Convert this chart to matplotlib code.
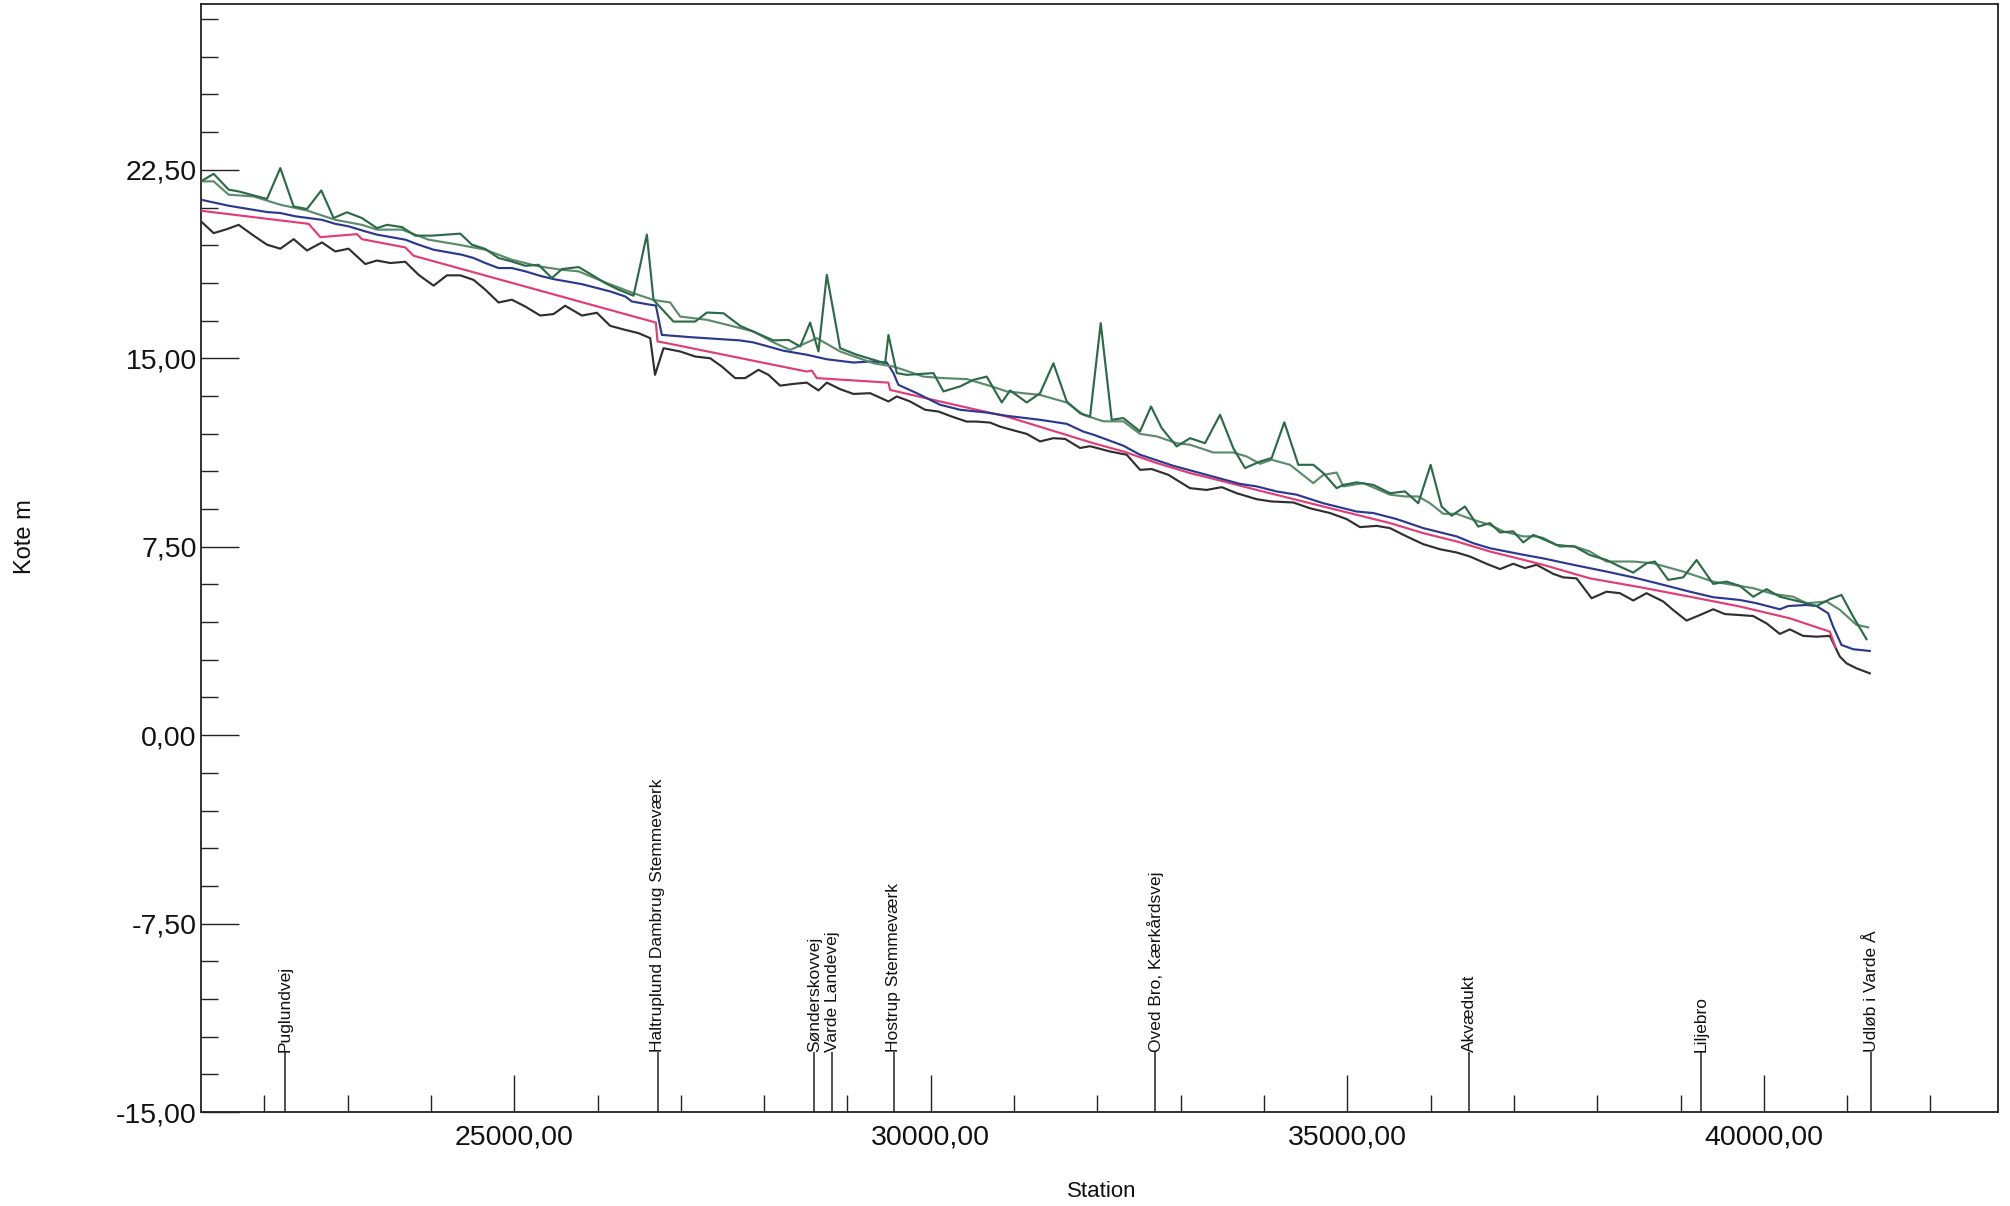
import matplotlib
matplotlib.use("Agg")
import matplotlib.pyplot as plt
from matplotlib.ticker import FixedLocator, FuncFormatter

plt.rcParams['font.family'] = ['Liberation Sans', 'DejaVu Sans']

# ---------------- data (station m, kote m) ----------------
bund_x = [21240, 21392, 21552, 21692, 21872, 22032, 22192, 22352, 22512, 22692, 22852, 23012,
          23212, 23352, 23512, 23692, 23852, 24032, 24192, 24352, 24512, 24652, 24812, 24972,
          25132, 25312, 25472, 25612, 25812, 25992, 26152, 26332, 26492, 26632, 26690, 26792,
          26992, 27172, 27352, 27492, 27652, 27772, 27932, 28052, 28192, 28352, 28512, 28652,
          28752, 28912, 29072, 29272, 29492, 29592, 29752, 29932, 30092, 30252, 30432, 30552,
          30712, 30832, 30972, 31152, 31312, 31472, 31612, 31792, 31912, 32152, 32352, 32512,
          32652, 32852, 33112, 33312, 33492, 33672, 33912, 34092, 34352, 34552, 34792, 34992,
          35152, 35352, 35512, 35712, 35912, 36112, 36312, 36472, 36672, 36832, 36992, 37132,
          37272, 37472, 37592, 37752, 37932, 38112, 38272, 38432, 38592, 38792, 38912, 39072,
          39232, 39392, 39532, 39712, 39872, 40032, 40192, 40312, 40472, 40632, 40792, 40912,
          40992, 41112, 41272]
bund_y = [20.45, 19.98, 20.14, 20.31, 19.88, 19.52, 19.36, 19.74, 19.29, 19.61, 19.25, 19.36,
          18.75, 18.89, 18.79, 18.84, 18.32, 17.89, 18.30, 18.30, 18.12, 17.73, 17.22, 17.33,
          17.06, 16.70, 16.76, 17.09, 16.70, 16.81, 16.29, 16.13, 16.00, 15.80, 14.34, 15.40,
          15.27, 15.07, 15.00, 14.67, 14.21, 14.21, 14.54, 14.34, 13.91, 13.98, 14.03, 13.72,
          14.03, 13.77, 13.58, 13.61, 13.28, 13.48, 13.28, 12.95, 12.88, 12.68, 12.48, 12.48,
          12.44, 12.28, 12.15, 11.99, 11.69, 11.82, 11.79, 11.43, 11.50, 11.29, 11.16, 10.56,
          10.59, 10.36, 9.83, 9.76, 9.87, 9.63, 9.39, 9.30, 9.26, 9.03, 8.84, 8.60,
          8.28, 8.33, 8.24, 7.91, 7.60, 7.40, 7.27, 7.11, 6.82, 6.61, 6.82, 6.65,
          6.78, 6.42, 6.28, 6.24, 5.45, 5.71, 5.65, 5.36, 5.65, 5.32, 4.98, 4.56,
          4.78, 5.01, 4.82, 4.78, 4.74, 4.45, 4.03, 4.21, 3.95, 3.92, 3.95, 3.13,
          2.86, 2.66, 2.46]

pink_x = [21240, 22532, 22672, 23112, 23172, 23692, 23792, 26700, 26720, 26832, 28512, 28572,
          28632, 29492, 29512, 30112, 30912, 31950, 32312, 32712, 33112, 33512, 33912, 34312,
          34712, 35112, 35512, 35912, 36312, 36712, 37112, 37350, 37912, 38512, 39112, 39712,
          40312, 40792, 40860]
pink_y = [20.87, 20.35, 19.82, 19.94, 19.74, 19.41, 19.08, 16.42, 15.67, 15.60, 14.47, 14.51,
          14.21, 14.03, 13.74, 13.28, 12.68, 11.62, 11.29, 10.83, 10.43, 10.10, 9.76, 9.43,
          9.10, 8.77, 8.44, 8.04, 7.71, 7.31, 6.98, 6.78, 6.24, 5.89, 5.51, 5.12,
          4.65, 4.12, 3.50]

blaa_x = [21240, 21572, 22032, 22192, 22372, 22692, 22852, 23012, 23212, 23352, 23692, 23852,
          24032, 24372, 24512, 24652, 24812, 24972, 25132, 25312, 25472, 25812, 26152, 26332,
          26412, 26632, 26700, 26772, 27112, 27712, 27872, 28232, 28512, 28752, 29072, 29272,
          29472, 29552, 29612, 29832, 30112, 30352, 30672, 30912, 31312, 31632, 31832, 31960,
          32312, 32512, 32912, 33312, 33712, 33912, 34152, 34392, 34712, 35112, 35312, 35592,
          35912, 36312, 36512, 36712, 37112, 37360, 37712, 38112, 38432, 38712, 39112, 39392,
          39712, 39912, 40192, 40292, 40512, 40632, 40772, 40832, 40932, 41072, 41272]
blaa_y = [21.31, 21.07, 20.82, 20.78, 20.65, 20.51, 20.35, 20.25, 20.05, 19.92, 19.72, 19.52,
          19.32, 19.12, 18.99, 18.79, 18.59, 18.59, 18.46, 18.28, 18.15, 17.95, 17.66, 17.46,
          17.26, 17.13, 17.10, 15.93, 15.84, 15.71, 15.63, 15.30, 15.14, 14.96, 14.83, 14.87,
          14.83, 14.41, 13.94, 13.61, 13.15, 12.95, 12.84, 12.71, 12.55, 12.39, 12.08, 11.95,
          11.52, 11.16, 10.72, 10.36, 10.00, 9.90, 9.70, 9.57, 9.23, 8.90, 8.84, 8.60,
          8.24, 7.91, 7.64, 7.44, 7.18, 7.03, 6.78, 6.51, 6.28, 6.05, 5.71, 5.49,
          5.38, 5.25, 5.01, 5.14, 5.18, 5.14, 4.85, 4.32, 3.59, 3.42, 3.35]

venstre_x = [21240, 21392, 21572, 21692, 22032, 22192, 22352, 22512, 22684, 22832, 22992, 23172,
             23352, 23472, 23652, 23812, 24012, 24352, 24492, 24652, 24812, 24972, 25132, 25292,
             25452, 25572, 25772, 25932, 26092, 26252, 26432, 26592, 26672, 26912, 27172, 27312,
             27512, 27712, 27912, 28112, 28292, 28432, 28552, 28652, 28752, 28912, 29112, 29312,
             29452, 29492, 29592, 29712, 30032, 30152, 30352, 30512, 30672, 30852, 30952, 31152,
             31312, 31472, 31632, 31792, 31912, 32040, 32172, 32312, 32512, 32644, 32772, 32952,
             33112, 33292, 33472, 33632, 33772, 33952, 34092, 34244, 34412, 34592, 34712, 34872,
             34952, 35112, 35312, 35512, 35692, 35852, 36000, 36132, 36252, 36412, 36572, 36712,
             36832, 36992, 37112, 37232, 37352, 37512, 37732, 37912, 38112, 38272, 38432, 38592,
             38692, 38852, 39032, 39192, 39392, 39552, 39712, 39872, 40032, 40192, 40352, 40512,
             40632, 40792, 40932, 41072, 41232]
venstre_y = [22.04, 22.34, 21.71, 21.64, 21.34, 22.57, 21.04, 20.94, 21.68, 20.58, 20.81, 20.58,
             20.18, 20.31, 20.22, 19.88, 19.88, 19.96, 19.52, 19.35, 18.99, 18.85, 18.68, 18.72,
             18.19, 18.55, 18.63, 18.32, 17.99, 17.73, 17.49, 19.92, 17.32, 16.46, 16.46, 16.82,
             16.79, 16.29, 16.00, 15.71, 15.73, 15.47, 16.42, 15.27, 18.32, 15.40, 15.14, 14.94,
             14.80, 15.93, 14.41, 14.34, 14.41, 13.68, 13.88, 14.14, 14.27, 13.24, 13.72, 13.24,
             13.61, 14.80, 13.28, 12.81, 12.68, 16.40, 12.55, 12.62, 12.09, 13.08, 12.22, 11.49,
             11.82, 11.62, 12.75, 11.42, 10.63, 10.89, 11.03, 12.45, 10.76, 10.76, 10.43, 9.83,
             9.96, 10.06, 9.96, 9.63, 9.70, 9.23, 10.76, 9.10, 8.73, 9.10, 8.30, 8.44,
             8.07, 8.11, 7.67, 7.97, 7.80, 7.57, 7.50, 7.17, 6.97, 6.71, 6.47, 6.84,
             6.91, 6.18, 6.28, 6.97, 6.02, 6.11, 5.94, 5.51, 5.81, 5.51, 5.38, 5.25,
             5.14, 5.41, 5.58, 4.72, 3.82]

hoejre_x = [21240, 21392, 21572, 21872, 22192, 22512, 22852, 23172, 23352, 23652, 23972, 24332,
            24652, 24972, 25292, 25572, 25772, 26092, 26432, 26672, 26872, 26992, 27312, 27472,
            27712, 27872, 28112, 28312, 28632, 28912, 29312, 29552, 29672, 29912, 30152, 30432,
            30712, 30912, 31312, 31632, 31832, 32072, 32312, 32512, 32712, 32952, 33112, 33392,
            33632, 33792, 33952, 34092, 34312, 34592, 34712, 34872, 34952, 35192, 35512, 35692,
            35852, 35992, 36152, 36312, 36512, 36712, 36872, 37112, 37272, 37352, 37552, 37712,
            37912, 38112, 38432, 38672, 39032, 39392, 39632, 39872, 40112, 40352, 40512, 40752,
            40912, 41112, 41252]
hoejre_y = [22.04, 22.04, 21.51, 21.44, 21.11, 20.88, 20.51, 20.31, 20.12, 20.12, 19.72, 19.52,
            19.32, 18.92, 18.66, 18.52, 18.46, 18.02, 17.59, 17.32, 17.22, 16.66, 16.53, 16.40,
            16.20, 16.07, 15.63, 15.33, 15.80, 15.27, 14.80, 14.67, 14.54, 14.27, 14.21, 14.17,
            13.90, 13.68, 13.54, 13.24, 12.75, 12.49, 12.49, 11.99, 11.89, 11.62, 11.56, 11.25,
            11.25, 11.09, 10.80, 10.96, 10.76, 10.03, 10.36, 10.45, 9.90, 10.03, 9.57, 9.50,
            9.50, 9.23, 8.81, 8.81, 8.57, 8.37, 8.11, 7.91, 7.91, 7.85, 7.50, 7.53,
            7.31, 6.91, 6.91, 6.84, 6.51, 6.11, 5.98, 5.85, 5.62, 5.51, 5.25, 5.32,
            4.99, 4.39, 4.29]

station_names = ["Puglundvej", "Haltruplund Dambrug Stemmeværk", "Sønderskovvej", "Varde Landevej",
                 "Hostrup Stemmeværk", "Oved Bro, Kærkårdsvej", "Akvædukt", "Liljebro", "Udløb i Varde Å"]
station_pos = [22247, 26724, 28601, 28816, 29555, 32693, 36462, 39246, 41292]

x_major = [25000, 30000, 35000, 40000]
x_minor = [22000, 23000, 24000, 26000, 27000, 28000, 29000, 31000, 32000, 33000, 34000,
           36000, 37000, 38000, 39000, 41000, 42000]
y_major = [-15.0, -7.5, 0.0, 7.5, 15.0, 22.5]
y_minor = [-13.5, -12.0, -10.5, -9.0, -6.0, -4.5, -3.0, -1.5, 1.5, 3.0, 4.5, 6.0,
           9.0, 10.5, 12.0, 13.5, 16.5, 18.0, 19.5, 21.0, 24.0, 25.5, 27.0, 28.5]

# ---------------- figure ----------------
fig = plt.figure(figsize=(20.10, 12.06), dpi=100)
ax = fig.add_axes([0.1, 0.0779, 0.894, 0.9188])

lw = 1.55
ax.plot(bund_x, bund_y, color='#2f2f2f', lw=lw, zorder=3)
ax.plot(pink_x, pink_y, color='#e23c78', lw=lw, zorder=4)
ax.plot(blaa_x, blaa_y, color='#2a3890', lw=lw, zorder=5)
ax.plot(hoejre_x, hoejre_y, color='#5a8c6c', lw=lw, zorder=6)
ax.plot(venstre_x, venstre_y, color='#2c6a48', lw=lw, zorder=7)

label_base = -12.6
ax.vlines(station_pos, -15.0, label_base, color='#222222', lw=1.1, zorder=2)
for name, pos in zip(station_names, station_pos):
    ax.text(pos, label_base, name, rotation=90, ha='center', va='bottom',
            fontsize=12.5, color='#111111')

ax.set_xlim(21240, 42810)
ax.set_ylim(-15.0, 29.1)

ax.xaxis.set_major_locator(FixedLocator(x_major))
ax.xaxis.set_minor_locator(FixedLocator(x_minor))
ax.yaxis.set_major_locator(FixedLocator(y_major))
ax.yaxis.set_minor_locator(FixedLocator(y_minor))
fmt = FuncFormatter(lambda v, p: f"{v:.2f}".replace('.', ','))
ax.xaxis.set_major_formatter(fmt)
ax.yaxis.set_major_formatter(fmt)

ax.tick_params(axis='both', which='major', direction='in', length=27, width=1.0,
               labelsize=20.5, color='#222222', labelcolor='#111111')
ax.tick_params(axis='both', which='minor', direction='in', length=12, width=1.0, color='#222222')
ax.tick_params(axis='x', which='major', pad=9)
ax.tick_params(axis='y', which='major', pad=3)

for s in ax.spines.values():
    s.set_linewidth(1.3)
    s.set_color('#222222')

fig.text(0.0125, 0.555, 'Kote m', rotation=90, ha='center', va='center', fontsize=17, color='#111111')
fig.text(0.548, 0.003, 'Station', ha='center', va='bottom', fontsize=16, color='#111111')

fig.savefig('out.png', dpi=100)
